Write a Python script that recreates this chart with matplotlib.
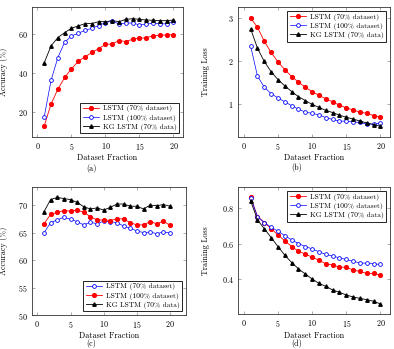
import matplotlib
matplotlib.use('Agg')
import matplotlib.pyplot as plt

# x values (dataset fraction)
frac = list(range(1, 21))

# (a) accuracy
acc_a_lstm70 = [12.9, 24.1, 31.7, 37.7, 42.1, 46.0, 48.3, 50.5, 52.5, 54.6,
                54.9, 56.6, 56.1, 57.3, 57.8, 58.0, 59.1, 59.3, 59.5, 59.6]
acc_a_lstm100 = [17.6, 36.2, 47.9, 55.7, 59.0, 60.3, 61.9, 62.9, 64.3, 65.8,
                 66.6, 65.1, 65.6, 65.6, 64.6, 65.1, 65.4, 65.3, 65.1, 66.3]
acc_a_kg = [45.2, 53.9, 58.1, 60.7, 62.9, 64.1, 65.3, 65.3, 66.3, 66.3,
            66.8, 66.3, 67.5, 67.8, 67.5, 67.1, 67.0, 66.8, 66.8, 67.1]

# (b) training loss
loss_b_lstm70 = [2.99, 2.78, 2.45, 2.19, 1.97, 1.79, 1.63, 1.50, 1.38, 1.28,
                 1.19, 1.11, 1.04, 0.96, 0.90, 0.85, 0.80, 0.77, 0.72, 0.68]
loss_b_lstm100 = [2.34, 1.64, 1.38, 1.23, 1.13, 1.04, 0.95, 0.87, 0.80, 0.77,
                  0.74, 0.67, 0.63, 0.59, 0.59, 0.57, 0.56, 0.52, 0.52, 0.55]
loss_b_kg = [2.74, 2.29, 1.98, 1.74, 1.56, 1.41, 1.28, 1.16, 1.07, 0.98,
             0.91, 0.84, 0.79, 0.73, 0.68, 0.64, 0.59, 0.55, 0.51, 0.47]

# (c) accuracy (labels swapped in the original legend)
acc_c_blue = [64.95, 66.8, 67.3, 67.8, 67.4, 67.0, 66.4, 66.9, 66.6, 67.1,
              67.0, 66.8, 66.2, 65.8, 65.3, 65.0, 65.1, 64.8, 65.1, 64.95]
acc_c_red = [66.6, 68.3, 68.7, 69.0, 68.9, 69.1, 68.7, 67.9, 67.3, 67.3,
             67.2, 67.5, 67.5, 66.8, 66.4, 66.4, 67.0, 66.6, 67.1, 66.3]
acc_c_kg = [68.8, 71.0, 71.4, 71.2, 71.0, 70.5, 69.7, 69.3, 69.5, 69.1,
            69.6, 70.2, 70.2, 69.8, 69.8, 69.3, 70.0, 69.9, 70.1, 69.8]

# (d) training loss
loss_d_lstm70 = [0.859, 0.750, 0.717, 0.683, 0.648, 0.615, 0.583, 0.557, 0.541, 0.524,
                 0.507, 0.487, 0.480, 0.468, 0.468, 0.452, 0.444, 0.433, 0.433, 0.424]
loss_d_lstm100 = [0.856, 0.750, 0.717, 0.690, 0.669, 0.644, 0.620, 0.600, 0.583, 0.570,
                  0.554, 0.539, 0.530, 0.520, 0.511, 0.500, 0.493, 0.489, 0.487, 0.483]
loss_d_kg = [0.839, 0.731, 0.683, 0.633, 0.583, 0.535, 0.494, 0.459, 0.430, 0.402,
             0.378, 0.361, 0.341, 0.328, 0.313, 0.302, 0.294, 0.287, 0.278, 0.263]

xticks = [0, 5, 10, 15, 20]

plt.rcParams['font.family'] = ['cmr10', 'DejaVu Serif']
plt.rcParams['axes.formatter.use_mathtext'] = True
FS = 5.8
LFS = 5.4

W, H = 394, 349
fig = plt.figure(figsize=(W / 100, H / 100), dpi=100)


def px_axes(x0, x1, y0, y1):
    # pixel box -> figure fraction
    return fig.add_axes([x0 / W, 1 - y1 / H, (x1 - x0) / W, (y1 - y0) / H])


def red(ax, y, lab):
    ax.plot(frac, y, color='red', lw=0.6, marker='o', ms=2.7, mfc='red', mec='red', label=lab)


def blue(ax, y, lab):
    ax.plot(frac, y, color='blue', lw=0.5, marker='o', ms=2.7, mfc='white', mec='blue',
            mew=0.6, label=lab)


def black(ax, y, lab):
    ax.plot(frac, y, color='black', lw=0.6, marker='^', ms=2.5, mfc='black', mec='black',
            label=lab)


def style(ax, xlim, ylim, yticks, ylabel, loc, ylx, xly):
    ax.set_xlim(*xlim)
    ax.set_ylim(*ylim)
    ax.set_xticks(xticks)
    ax.set_yticks(yticks)
    ax.tick_params(direction='in', length=2.5, width=0.5, color='#888888',
                   top=True, right=True, labelsize=FS, pad=3)
    for s in ax.spines.values():
        s.set_linewidth(0.6)
        s.set_color('#333333')
    ax.set_xlabel('Dataset Fraction', fontsize=FS)
    ax.set_ylabel(ylabel, fontsize=FS)
    ax.xaxis.set_label_coords(0.5, xly)
    ax.yaxis.set_label_coords(ylx, 0.5)
    leg = ax.legend(loc=loc, fontsize=LFS, frameon=True, fancybox=False,
                    edgecolor='black', framealpha=1, handlelength=2.2,
                    borderpad=0.35, labelspacing=0.25, handletextpad=0.5,
                    borderaxespad=0.5)
    leg.get_frame().set_linewidth(0.6)


# (a)
ax = px_axes(32, 183, 7, 137)
red(ax, acc_a_lstm70, 'LSTM (70% dataset)')
blue(ax, acc_a_lstm100, 'LSTM (100% dataset)')
black(ax, acc_a_kg, 'KG LSTM (70% data)')
style(ax, (-0.8, 21.4), (7.2, 73.8), [20, 40, 60], 'Accuracy (%)', 'lower right',
      -0.16, -0.13)

# (b)
ax = px_axes(238, 390, 7, 137)
red(ax, loss_b_lstm70, 'LSTM (70% dataset)')
blue(ax, loss_b_lstm100, 'LSTM (100% dataset)')
black(ax, loss_b_kg, 'KG LSTM (70% data)')
style(ax, (-0.85, 21.4), (0.22, 3.25), [1, 2, 3], 'Training Loss', 'upper right',
      -0.185, -0.13)

# (c)
ax = px_axes(32, 186, 187, 315)
blue(ax, acc_c_blue, 'LSTM (70% dataset)')
red(ax, acc_c_red, 'LSTM (100% dataset)')
black(ax, acc_c_kg, 'KG LSTM (70% data)')
style(ax, (-0.8, 22.4), (50, 73.3), [50, 55, 60, 65, 70], 'Accuracy (%)', 'lower right',
      -0.156, -0.133)

# (d)
ax = px_axes(238, 390, 187, 314)
red(ax, loss_d_lstm70, 'LSTM (70% dataset)')
blue(ax, loss_d_lstm100, 'LSTM (100% dataset)')
black(ax, loss_d_kg, 'KG LSTM (70% data)')
style(ax, (-0.85, 21.4), (0.207, 0.915), [0.4, 0.6, 0.8], 'Training Loss', 'upper right',
      -0.185, -0.142)

# sub captions
for lab, cx, cy in [('(a)', 91, 169), ('(b)', 297, 168), ('(c)', 91, 344), ('(d)', 297, 344)]:
    fig.text(cx / W, 1 - cy / H, lab, fontsize=FS, ha='center', va='center')

fig.savefig('out.png', dpi=100)
